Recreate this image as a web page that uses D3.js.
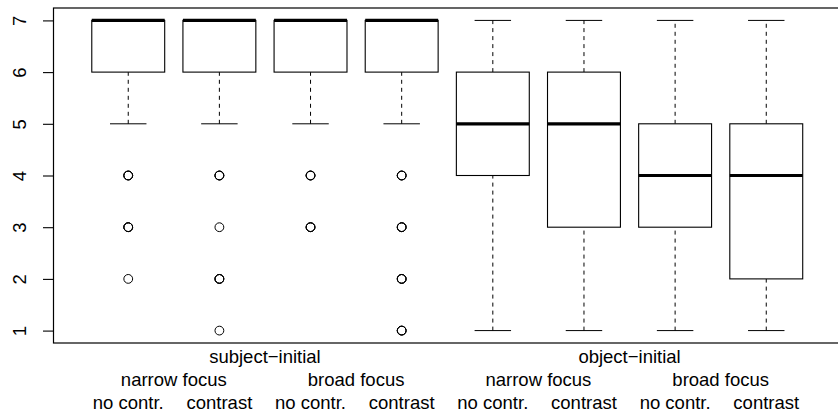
<!DOCTYPE html>
<html>
<head>
<meta charset="utf-8">
<script src="https://cdn.jsdelivr.net/npm/d3@7"></script>
<style>
  body { margin: 0; background: #fff; }
  text { font-family: "Liberation Sans", Arial, sans-serif; fill: #000; }
</style>
</head>
<body>
<div id="chart"></div>
<script>
// word order / focus / contrast labels under the boxes
let orders = ["subject\u2212initial", "object\u2212initial"];
let focusTypes = ["narrow focus", "broad focus"];
let contrastTypes = ["no contr.", "contrast"];

// five number summaries, one entry per box (left to right)
let whiskerLow  = [5, 5, 5, 5, 1, 1, 1, 1];
let lowerHinge  = [6, 6, 6, 6, 4, 3, 3, 2];
let medians     = [7, 7, 7, 7, 5, 5, 4, 4];
let upperHinge  = [7, 7, 7, 7, 6, 6, 5, 5];
let whiskerHigh = [7, 7, 7, 7, 7, 7, 7, 7];

// outliers: [box index, value, how many answers share that value]
let outliers = [
  [0, 4, 3], [0, 3, 3], [0, 2, 1],
  [1, 4, 3], [1, 3, 1], [1, 2, 3], [1, 1, 1],
  [2, 4, 3], [2, 3, 3],
  [3, 4, 3], [3, 3, 3], [3, 2, 3], [3, 1, 3]
];

let yTicks = [1, 2, 3, 4, 5, 6, 7];

let W = 838, H = 411;
let margin = {top: 8, right: -3, bottom: 68, left: 53.5};
let width = W - margin.left - margin.right,
    height = H - margin.top - margin.bottom;

let svg = d3.select("#chart")
  .append("svg")
    .attr("width", W)
    .attr("height", H);

let g = svg.append("g")
    .attr("transform", "translate(" + margin.left + "," + margin.top + ")");

let n = medians.length;

// R style axis ranges, extended 4% on each side
let x = d3.scaleLinear()
  .domain([0.5 - 0.04 * n, n + 0.5 + 0.04 * n])
  .range([0, width]);

let y = d3.scaleLinear()
  .domain([1 - 0.04 * 6, 7 + 0.04 * 6])
  .range([height, 0]);

let unit = x(2) - x(1);
let boxW = unit * 0.8;
let fs = 18.5;

// frame
g.append("rect")
  .attr("x", 0)
  .attr("y", 0)
  .attr("width", width)
  .attr("height", height)
  .attr("fill", "none")
  .attr("stroke", "#000")
  .attr("stroke-width", 1.2);

// y axis
let yAxis = g.append("g")
  .call(d3.axisLeft(y).tickValues(yTicks).tickSize(10.5).tickFormat(d3.format("d")));
yAxis.select(".domain").remove();
yAxis.selectAll(".tick line").attr("stroke", "#000").attr("stroke-width", 1.1);
yAxis.selectAll(".tick text")
  .attr("font-size", fs)
  .attr("font-family", "Liberation Sans, Arial, sans-serif")
  .attr("text-anchor", "middle")
  .attr("x", 0).attr("y", 0)
  .attr("dy", null)
  .attr("transform", "translate(-34,0) rotate(-90)")
  .attr("dominant-baseline", "central");

let data = d3.range(n).map(function(i) {
  return {i: i + 1, lo: whiskerLow[i], q1: lowerHinge[i], med: medians[i],
          q3: upperHinge[i], hi: whiskerHigh[i]};
});

let boxes = g.append("g").selectAll("g")
  .data(data)
  .enter().append("g");

// whiskers (dashed)
boxes.append("line")
  .attr("x1", function(d) { return x(d.i); })
  .attr("x2", function(d) { return x(d.i); })
  .attr("y1", function(d) { return y(d.lo); })
  .attr("y2", function(d) { return y(d.q1); })
  .attr("stroke", "#000").attr("stroke-dasharray", "4,4");
boxes.append("line")
  .attr("x1", function(d) { return x(d.i); })
  .attr("x2", function(d) { return x(d.i); })
  .attr("y1", function(d) { return y(d.q3); })
  .attr("y2", function(d) { return y(d.hi); })
  .attr("stroke", "#000").attr("stroke-dasharray", "4,4");

// whisker caps
boxes.selectAll(".cap")
  .data(function(d) { return [{i: d.i, v: d.lo}, {i: d.i, v: d.hi}]; })
  .enter().append("line")
    .attr("class", "cap")
    .attr("x1", function(d) { return x(d.i) - boxW / 4; })
    .attr("x2", function(d) { return x(d.i) + boxW / 4; })
    .attr("y1", function(d) { return y(d.v); })
    .attr("y2", function(d) { return y(d.v); })
    .attr("stroke", "#000");

// boxes
boxes.append("rect")
  .attr("x", function(d) { return x(d.i) - boxW / 2; })
  .attr("y", function(d) { return y(d.q3); })
  .attr("width", boxW)
  .attr("height", function(d) { return y(d.q1) - y(d.q3); })
  .attr("fill", "#fff")
  .attr("stroke", "#000")
  .attr("stroke-width", 1.1);

// medians
boxes.append("line")
  .attr("x1", function(d) { return x(d.i) - boxW / 2; })
  .attr("x2", function(d) { return x(d.i) + boxW / 2; })
  .attr("y1", function(d) { return y(d.med); })
  .attr("y2", function(d) { return y(d.med); })
  .attr("stroke", "#000")
  .attr("stroke-width", 3.2);

// outliers, overplotted once per answer
let pts = [];
outliers.forEach(function(o) {
  for (let k = 0; k < o[2]; k++) pts.push({i: o[0] + 1, v: o[1]});
});
g.append("g").selectAll("circle")
  .data(pts)
  .enter().append("circle")
    .attr("cx", function(d) { return x(d.i); })
    .attr("cy", function(d) { return y(d.v); })
    .attr("r", 4.4)
    .attr("fill", "none")
    .attr("stroke", "#000")
    .attr("stroke-width", 1);

// category labels, three rows
let labels = g.append("g").attr("font-size", fs).attr("text-anchor", "middle");

labels.selectAll(".order")
  .data(orders)
  .enter().append("text")
    .attr("x", function(d, k) { return x(2.5 + 4 * k); })
    .attr("y", 356.7 - margin.top)
    .attr("dominant-baseline", "central")
    .text(function(d) { return d; });

let focusRow = [];
orders.forEach(function(o, k) {
  focusTypes.forEach(function(f, j) { focusRow.push({label: f, pos: 1.5 + 4 * k + 2 * j}); });
});
labels.selectAll(".focus")
  .data(focusRow)
  .enter().append("text")
    .attr("x", function(d) { return x(d.pos); })
    .attr("y", 379.5 - margin.top)
    .attr("dominant-baseline", "central")
    .text(function(d) { return d.label; });

let contrRow = d3.range(n).map(function(i) { return {label: contrastTypes[i % 2], pos: i + 1}; });
labels.selectAll(".contr")
  .data(contrRow)
  .enter().append("text")
    .attr("x", function(d) { return x(d.pos); })
    .attr("y", 402 - margin.top)
    .attr("dominant-baseline", "central")
    .text(function(d) { return d.label; });
</script>
</body>
</html>
